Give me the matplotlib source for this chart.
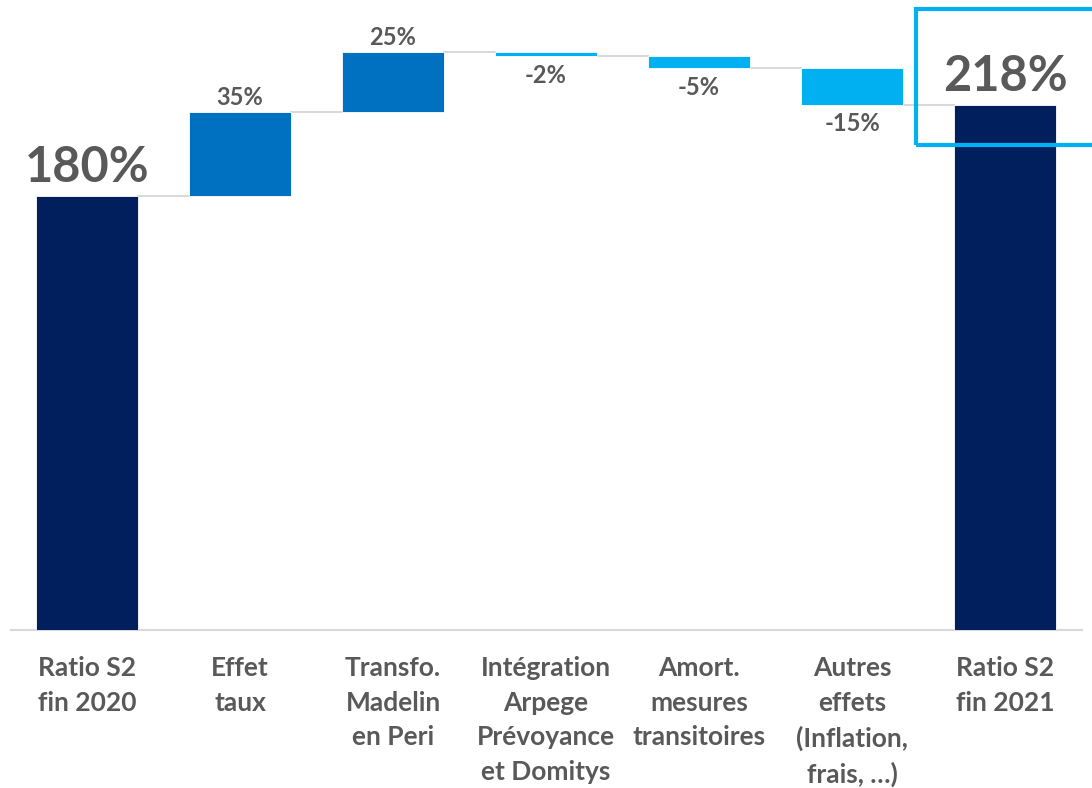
import matplotlib.pyplot as plt
from matplotlib.patches import Rectangle

categories = [
    "Ratio S2\nfin 2020",
    "Effet\ntaux",
    "Transfo.\nMadelin\nen Peri",
    "Intégration\nArpege\nPrévoyance\net Domitys",
    "Amort.\nmesures\ntransitoires",
    "Autres\neffets\n(Inflation,\nfrais, …)",
    "Ratio S2\nfin 2021",
]
values = [180, 35, 25, -2, -5, -15, 218]
kinds = ["total", "delta", "delta", "delta", "delta", "delta", "total"]

NAVY = "#001F5C"
MID_BLUE = "#0070C0"
LIGHT_BLUE = "#00B0F0"
GREY_TXT = "#595959"
GREY_LINE = "#D9D9D9"

plt.rcParams["font.family"] = ["Lato", "DejaVu Sans"]
plt.rcParams["font.weight"] = "bold"

fig = plt.figure(figsize=(10.92, 7.88), dpi=100)
ax = fig.add_axes([10.5 / 1092, 158 / 788, 1071 / 1092, 602.5 / 788])

width = 0.667
level = 0
bottoms, tops = [], []
for i, (v, k) in enumerate(zip(values, kinds)):
    if k == "total":
        bottom, top = 0, v
        color = NAVY
        level = v
    else:
        bottom, top = level, level + v
        color = MID_BLUE if v > 0 else LIGHT_BLUE
        level = top
    ax.bar(i, top - bottom, bottom=bottom, width=width, color=color,
           edgecolor="white", linewidth=0.6, zorder=3)
    bottoms.append(min(bottom, top))
    tops.append(max(bottom, top))

# connector lines between consecutive bars
running = 0
for i, (v, k) in enumerate(zip(values[:-1], kinds[:-1])):
    running = v if k == "total" else running + v
    ax.plot([i + width / 2, i + 1 - width / 2], [running, running],
            color=GREY_LINE, linewidth=1.5, zorder=2)

# value labels
for i, (v, k) in enumerate(zip(values, kinds)):
    if k == "total":
        ax.text(i, tops[i] + 2.5, f"{v}%", ha="center", va="bottom",
                fontsize=35, color=GREY_TXT, fontweight="bold", zorder=5)
    elif v > 0:
        ax.text(i, tops[i] + 1.0, f"{v}%", ha="center", va="bottom",
                fontsize=17, color=GREY_TXT, fontweight="bold", zorder=5)
    else:
        ax.text(i, bottoms[i] - 3, f"{v}%", ha="center", va="top",
                fontsize=17, color=GREY_TXT, fontweight="bold", zorder=5)

ax.set_xlim(-0.5, len(values) - 0.5)
ax.set_ylim(0, 250)
ax.set_xticks(range(len(categories)))
ax.set_xticklabels(categories, fontsize=19, color=GREY_TXT, fontweight="bold",
                   linespacing=1.52)
ax.tick_params(axis="x", length=0, pad=19)
ax.set_yticks([])
for side in ["top", "right", "left"]:
    ax.spines[side].set_visible(False)
ax.spines["bottom"].set_color(GREY_LINE)
ax.spines["bottom"].set_linewidth(1.5)

# highlight frame around the final ratio
fig.patches.append(Rectangle((916 / 1092, (788 - 145) / 788), 200 / 1092, 136 / 788,
                             transform=fig.transFigure, fill=False,
                             edgecolor=LIGHT_BLUE, linewidth=3, zorder=10))

fig.savefig("out.png", dpi=100)
